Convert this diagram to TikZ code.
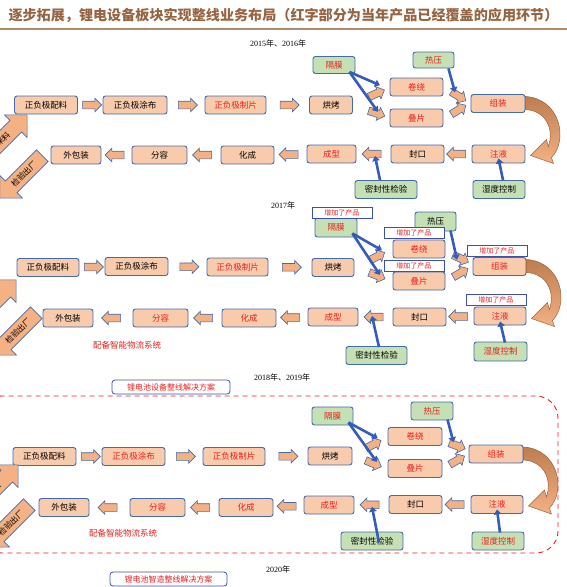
\documentclass[tikz,border=0pt]{standalone}
\usepackage{fontspec}
\setmainfont{Liberation Serif}
\newfontfamily\cjk{Noto Sans CJK SC}
\usepackage{tikz}
\usetikzlibrary{arrows.meta, positioning, calc, shapes.arrows}
\definecolor{boxline}{RGB}{68,106,168}
\definecolor{peach}{RGB}{248,203,173}
\definecolor{lightgreen}{RGB}{197,224,180}
\definecolor{arrowfill}{RGB}{244,177,131}
\definecolor{bluearrow}{RGB}{52,92,186}
\definecolor{tagblue}{RGB}{60,80,180}
\definecolor{titlebrown}{RGB}{150,100,66}
\definecolor{rulebrown}{RGB}{176,140,110}
\definecolor{cred}{RGB}{235,30,30}
\definecolor{turnbrown}{RGB}{190,125,80}

% bent arrow from the assembly box down to the filling box
\newcommand{\turnarrow}[1]{%
  \begin{scope}[shift={(#1.east)}]
    \path[uturn] (0,-7) .. controls (35,-5) and (43,37) .. (26,54) -- (28,60) -- (5,52)
      -- (21,36) -- (23,43) .. controls (29,25) and (20,7) .. (0,6) -- cycle;
  \end{scope}}

\begin{document}
\begin{tikzpicture}[x=1pt, y=-1pt,
    stepbox/.style={draw=boxline, fill=peach, rounded corners=2.5pt, line width=0.9pt, minimum height=18pt, inner sep=1pt, font=\cjk\fontsize{8.5}{9}\selectfont},
    greenbox/.style={stepbox, fill=lightgreen},
    hot/.style={text=cred},
    flow/.style={single arrow, draw=boxline, fill=arrowfill, line width=0.6pt, minimum height=19pt, minimum width=13pt, inner sep=3.5pt, single arrow head extend=3pt},
    back/.style={flow, shape border rotate=180},
    tilt/.style={flow, minimum height=17pt, rotate=#1},
    feed/.style={draw=bluearrow, line width=2.6pt, -{Triangle[length=5pt,width=7.5pt]}},
    bigflow/.style={single arrow, draw=boxline, fill=arrowfill, line width=0.6pt, minimum height=60pt, minimum width=32pt, inner sep=3.5pt, rotate=45, font=\cjk\fontsize{8}{9}\selectfont},
    addtag/.style={draw=tagblue, fill=white, text=cred, line width=0.7pt, minimum width=60pt, minimum height=11pt, inner sep=0pt, font=\cjk\fontsize{7}{8}\selectfont},
    plan/.style={draw=tagblue, fill=white, text=cred, rounded corners=3pt, line width=0.8pt, minimum height=14pt, inner sep=1pt, font=\cjk\fontsize{8}{9}\selectfont},
    yearlabel/.style={font=\fontsize{8}{9}\selectfont},
    uturn/.style={draw=turnbrown!80!black, line width=0.5pt, top color=turnbrown, bottom color=arrowfill},
]
    \useasboundingbox (0,0) rectangle (567,587);
    \clip (0,0) rectangle (567,587);

    \node[font=\cjk\bfseries\fontsize{14.1}{16}\selectfont, text=titlebrown] (title) at (283.5,15) {逐步拓展，锂电设备板块实现整线业务布局（红字部分为当年产品已经覆盖的应用环节）};
    \draw[rulebrown, line width=1.2pt] (0,29) -- (567,29);

    %% 2015, 2016
    \node[yearlabel] (yearA) at (278,43) {2015{\cjk 年、}2016{\cjk 年}};
    \node[stepbox, minimum width=63pt] (peiliaoA) at (46,105) {正负极配料};
    \node[stepbox, minimum width=64pt] (tubuA) at (135,105) {正负极涂布};
    \node[stepbox, hot, minimum width=61pt] (zhipianA) at (235.5,105) {正负极制片};
    \node[stepbox, minimum width=43pt] (hongkaoA) at (331,105) {烘烤};
    \node[greenbox, hot, minimum width=42pt, minimum height=17pt] (gemoA) at (334,65) {隔膜};
    \node[greenbox, hot, minimum width=41pt, minimum height=16pt] (reyaA) at (433.5,60) {热压};
    \node[stepbox, hot, minimum width=53pt] (juanraoA) at (416.5,87) {卷绕};
    \node[stepbox, hot, minimum width=53pt] (diepianA) at (416.5,118) {叠片};
    \node[stepbox, hot, minimum width=54pt] (zuzhuangA) at (498,103.5) {组装};
    \node[stepbox, hot, minimum width=53pt] (zhuyeA) at (498.5,154) {注液};
    \node[greenbox, minimum width=52pt] (shiduA) at (499,189.5) {湿度控制};
    \node[stepbox, minimum width=53pt] (fengkouA) at (417.5,154) {封口};
    \node[stepbox, hot, minimum width=49pt] (chengxingA) at (331.5,154) {成型};
    \node[greenbox, minimum width=62pt] (mifengA) at (386,189.5) {密封性检验};
    \node[stepbox, minimum width=53pt] (huachengA) at (247.5,155) {化成};
    \node[stepbox, minimum width=55pt] (fenrongA) at (159.5,155) {分容};
    \node[stepbox, minimum width=50pt] (baozhuangA) at (76,155) {外包装};

    \node[flow] at ($(peiliaoA.east)!0.5!(tubuA.west)$) {};
    \node[flow] at ($(tubuA.east)!0.5!(zhipianA.west)$) {};
    \node[flow] at ($(zhipianA.east)!0.5!(hongkaoA.west)$) {};
    \node[tilt=24] (upA) at ($(hongkaoA.east)!0.6!(juanraoA.west)$) {};
    \node[tilt=-18] (downA) at ($(hongkaoA.east)!0.6!(diepianA.west)$) {};
    \node[tilt=-32] (inA) at ($(juanraoA.east)!0.5!(zuzhuangA.west)$) {};
    \node[tilt=32] at ($(diepianA.east)!0.5!(zuzhuangA.west)$) {};
    \node[back] at ($(zhuyeA.west)!0.5!(fengkouA.east)$) {};
    \node[back] (sealA) at ($(fengkouA.west)!0.5!(chengxingA.east)$) {};
    \node[back] at ($(chengxingA.west)!0.5!(huachengA.east)$) {};
    \node[back] at ($(huachengA.west)!0.5!(fenrongA.east)$) {};
    \node[back] at ($(fenrongA.west)!0.5!(baozhuangA.east)$) {};
    \turnarrow{zuzhuangA}
    \node[bigflow] (inputA) at (3,139) {来料};
    \node[bigflow, shape border rotate=180] (outputA) at (24,174) {检验出厂};

    \draw[feed] ($(gemoA.south east)+(-6,-2)$) -- ($(upA.center)+(5,-9)$);
    \draw[feed] ($(gemoA.south east)+(-6,-2)$) -- ($(downA.center)+(3,-1)$);
    \draw[feed] ($(reyaA.south east)+(-6,0)$) -- ($(inA.center)+(-2,-3)$);
    \draw[feed] ($(shiduA.north)+(4,0)$) -- ($(zhuyeA.south)+(0,-5)$);
    \draw[feed] ($(mifengA.north)+(-6,0)$) -- ($(sealA.center)+(1.5,2)$);

    %% 2017
    \node[yearlabel] (yearB) at (283,205) {2017{\cjk 年}};
    \node[stepbox, minimum width=62pt] (peiliaoB) at (48,267.5) {正负极配料};
    \node[stepbox, minimum width=63pt] (tubuB) at (136.5,266.5) {正负极涂布};
    \node[stepbox, hot, minimum width=61pt] (zhipianB) at (237.5,267) {正负极制片};
    \node[stepbox, minimum width=42pt] (hongkaoB) at (333,267.5) {烘烤};
    \node[greenbox, hot, minimum width=42pt, minimum height=19pt] (gemoB) at (336,227.5) {隔膜};
    \node[greenbox, minimum width=41pt, minimum height=19pt] (reyaB) at (435.5,221.5) {热压};
    \node[stepbox, hot, minimum width=52pt] (juanraoB) at (419,249) {卷绕};
    \node[stepbox, hot, minimum width=52pt] (diepianB) at (419,281) {叠片};
    \node[stepbox, hot, minimum width=53pt] (zuzhuangB) at (499.5,266.5) {组装};
    \node[stepbox, hot, minimum width=52pt] (zhuyeB) at (500,316) {注液};
    \node[greenbox, hot, minimum width=53pt, minimum height=19pt] (shiduB) at (500.5,351.5) {湿度控制};
    \node[stepbox, minimum width=53pt] (fengkouB) at (419.5,317) {封口};
    \node[stepbox, hot, minimum width=50pt] (chengxingB) at (333,317) {成型};
    \node[greenbox, minimum width=61pt] (mifengB) at (376.5,355.5) {密封性检验};
    \node[stepbox, hot, minimum width=54pt] (huachengB) at (249,318) {化成};
    \node[stepbox, hot, minimum width=55pt] (fenrongB) at (160.5,318) {分容};
    \node[stepbox, minimum width=50pt] (baozhuangB) at (68,318) {外包装};
    \node[font=\cjk\fontsize{8.5}{10}\selectfont, text=cred] (logisticsB) at (127,345) {配备智能物流系统};

    \node[flow] at ($(peiliaoB.east)!0.5!(tubuB.west)$) {};
    \node[flow] at ($(tubuB.east)!0.5!(zhipianB.west)$) {};
    \node[flow] at ($(zhipianB.east)!0.5!(hongkaoB.west)$) {};
    \node[tilt=28] (upB) at ($(hongkaoB.east)!0.55!(juanraoB.west)$) {};
    \node[tilt=-22] (downB) at ($(hongkaoB.east)!0.55!(diepianB.west)$) {};
    \node[tilt=-25] (inB) at ($(juanraoB.east)!0.5!(zuzhuangB.west)$) {};
    \node[tilt=30] at ($(diepianB.east)!0.5!(zuzhuangB.west)$) {};
    \node[back] at ($(zhuyeB.west)!0.5!(fengkouB.east)$) {};
    \node[back] (sealB) at ($(fengkouB.west)!0.5!(chengxingB.east)$) {};
    \node[back] at ($(chengxingB.west)!0.5!(huachengB.east)$) {};
    \node[back] at ($(huachengB.west)!0.5!(fenrongB.east)$) {};
    \node[back] at ($(fenrongB.west)!0.5!(baozhuangB.east)$) {};
    \turnarrow{zuzhuangB}
    \node[bigflow] (inputB) at (-8,304) {来料};
    \node[bigflow, shape border rotate=180] (outputB) at (18,331) {检验出厂};

    \draw[feed] ($(gemoB.south east)+(-5,-4)$) -- ($(upB.center)+(6.5,-7)$);
    \draw[feed] ($(gemoB.south east)+(-5,-4)$) -- ($(downB.center)+(4.5,0)$);
    \draw[feed] ($(reyaB.south east)+(-6,-1)$) -- ($(inB.center)+(-2,2)$);
    \draw[feed] ($(shiduB.north)+(4.5,1)$) -- ($(zhuyeB.south)+(0,-4)$);
    \draw[feed] ($(mifengB.north)+(2.5,1)$) -- ($(sealB.center)+(-3.5,-1)$);

    \node[addtag, anchor=south west] (tagGemo) at ($(gemoB.north west)+(-3,1)$) {增加了产品};
    \node[addtag, anchor=south west] (tagJuanrao) at ($(juanraoB.north west)+(-9,-1)$) {增加了产品};
    \node[addtag, anchor=south west] (tagDiepian) at ($(diepianB.north west)+(-9,0)$) {增加了产品};
    \node[addtag, anchor=south west] (tagZuzhuang) at ($(zuzhuangB.north west)+(-6,0)$) {增加了产品};
    \node[addtag, anchor=south west] (tagZhuye) at ($(zhuyeB.north west)+(-8,-1)$) {增加了产品};

    %% 2018, 2019
    \node[yearlabel] (yearC) at (282,377) {2018{\cjk 年、}2019{\cjk 年}};
    \draw[cred, line width=0.9pt, dash pattern=on 5pt off 4pt, rounded corners=22pt] (-20,396) rectangle (558,553);
    \node[plan, minimum width=118pt] (planC) at (171,387) {锂电池设备整线解决方案};
    \node[stepbox, minimum width=63pt] (peiliaoC) at (44.5,456.5) {正负极配料};
    \node[stepbox, hot, minimum width=63pt] (tubuC) at (133.5,456.5) {正负极涂布};
    \node[stepbox, hot, minimum width=62pt] (zhipianC) at (234,456.5) {正负极制片};
    \node[stepbox, minimum width=44pt] (hongkaoC) at (330,456) {烘烤};
    \node[greenbox, hot, minimum width=41pt] (gemoC) at (332.5,416) {隔膜};
    \node[greenbox, hot, minimum width=42pt] (reyaC) at (432,411) {热压};
    \node[stepbox, hot, minimum width=54pt] (juanraoC) at (415,436.5) {卷绕};
    \node[stepbox, hot, minimum width=54pt] (diepianC) at (415,468.5) {叠片};
    \node[stepbox, hot, minimum width=54pt] (zuzhuangC) at (496,454) {组装};
    \node[stepbox, hot, minimum width=52pt] (zhuyeC) at (497,504.5) {注液};
    \node[greenbox, hot, minimum width=52pt] (shiduC) at (498,541) {湿度控制};
    \node[stepbox, minimum width=53pt] (fengkouC) at (415.5,504.5) {封口};
    \node[stepbox, hot, minimum width=50pt] (chengxingC) at (329,505) {成型};
    \node[greenbox, minimum width=62pt] (mifengC) at (372,541) {密封性检验};
    \node[stepbox, hot, minimum width=54pt] (huachengC) at (246,507.5) {化成};
    \node[stepbox, hot, minimum width=55pt] (fenrongC) at (157.5,507.5) {分容};
    \node[stepbox, minimum width=50pt] (baozhuangC) at (64,507.5) {外包装};
    \node[font=\cjk\fontsize{8.5}{10}\selectfont, text=cred] (logisticsC) at (123,533) {配备智能物流系统};

    \node[flow] at ($(peiliaoC.east)!0.5!(tubuC.west)$) {};
    \node[flow] at ($(tubuC.east)!0.5!(zhipianC.west)$) {};
    \node[flow] at ($(zhipianC.east)!0.5!(hongkaoC.west)$) {};
    \node[tilt=28] (upC) at ($(hongkaoC.east)!0.55!(juanraoC.west)$) {};
    \node[tilt=-22] (downC) at ($(hongkaoC.east)!0.55!(diepianC.west)$) {};
    \node[tilt=-20] (inC) at ($(juanraoC.east)!0.5!(zuzhuangC.west)$) {};
    \node[tilt=30] at ($(diepianC.east)!0.5!(zuzhuangC.west)$) {};
    \node[back] at ($(zhuyeC.west)!0.5!(fengkouC.east)$) {};
    \node[back] (sealC) at ($(fengkouC.west)!0.5!(chengxingC.east)$) {};
    \node[back] at ($(chengxingC.west)!0.5!(huachengC.east)$) {};
    \node[back] at ($(huachengC.west)!0.5!(fenrongC.east)$) {};
    \node[back] at ($(fenrongC.west)!0.5!(baozhuangC.east)$) {};
    \turnarrow{zuzhuangC}
    \node[bigflow] (inputC) at (-6,489) {来料};
    \node[bigflow, shape border rotate=180] (outputC) at (11,523) {检验出厂};

    \draw[feed] ($(gemoC.south east)+(-5,-3)$) -- ($(upC.center)+(6,-7)$);
    \draw[feed] ($(gemoC.south east)+(-5,-3)$) -- ($(downC.center)+(5,-1)$);
    \draw[feed] ($(reyaC.south east)+(-6,-1)$) -- ($(inC.center)+(-2,-3)$);
    \draw[feed] ($(shiduC.north)+(2,1)$) -- ($(zhuyeC.south)+(0,-4.5)$);
    \draw[feed] ($(mifengC.north)+(7,11)$) -- ($(sealC.center)+(0.5,2)$);

    %% 2020
    \node[yearlabel] (yearD) at (278,569) {2020{\cjk 年}};
    \node[plan, minimum width=117pt] (planD) at (168.5,579) {锂电池智造整线解决方案};
\end{tikzpicture}
\end{document}
